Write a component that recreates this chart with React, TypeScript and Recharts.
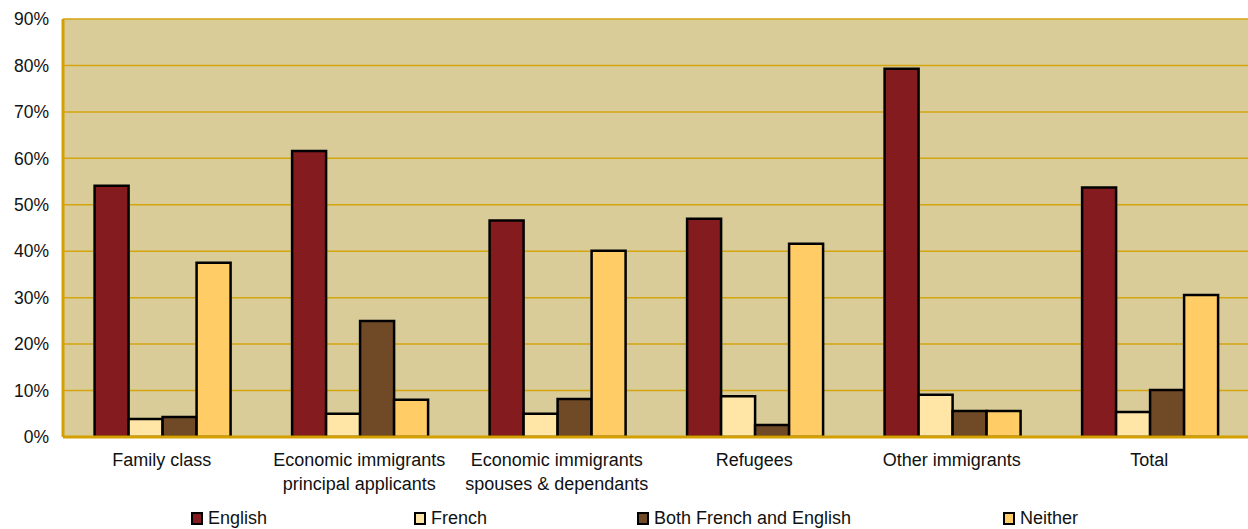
import { BarChart, Bar, XAxis, YAxis, CartesianGrid } from 'recharts';

const categories = [
  'Family class',
  'Economic immigrants\nprincipal applicants',
  'Economic immigrants\nspouses & dependants',
  'Refugees',
  'Other immigrants',
  'Total',
];

const english = [54.1, 61.6, 46.6, 47.0, 79.3, 53.7];
const french = [3.9, 5.0, 5.0, 8.8, 9.1, 5.4];
const both = [4.3, 25.0, 8.2, 2.6, 5.6, 10.1];
const neither = [37.5, 8.0, 40.1, 41.6, 5.6, 30.6];

const yTicks = [0, 10, 20, 30, 40, 50, 60, 70, 80, 90];

const SERIES = [
  { key: 'english', label: 'English', color: '#841B1E', legendX: 191 },
  { key: 'french', label: 'French', color: '#FFE6A6', legendX: 414 },
  { key: 'both', label: 'Both French and English', color: '#704A27', legendX: 637 },
  { key: 'neither', label: 'Neither', color: '#FFCC66', legendX: 1003 },
];

const data = categories.map((c, i) => ({
  name: c,
  english: english[i],
  french: french[i],
  both: both[i],
  neither: neither[i],
}));

const FONT = '"Liberation Sans", Arial, sans-serif';

function CategoryTick({ x, y, payload }: any) {
  const lines = String(payload.value).split('\n');
  return (
    <text x={x} y={y} textAnchor="middle" fill="#111" fontSize={18} fontFamily={FONT}>
      {lines.map((l, i) => (
        <tspan key={i} x={x} dy={i === 0 ? 21 : 24}>{l}</tspan>
      ))}
    </text>
  );
}

export default function App() {
  return (
    <div style={{ position: 'absolute', left: 0, top: 0, width: 1248, height: 529, background: '#fff', fontFamily: FONT }}>
      <BarChart
        width={1248}
        height={529}
        data={data}
        margin={{ top: 19, right: 0, left: 0, bottom: 0 }}
        barCategoryGap="16%"
        barGap={0}
      >
        <CartesianGrid fill="#D9CC98" stroke="#D4A50F" strokeWidth={1.5} vertical={false} />
        <XAxis
          dataKey="name"
          height={92}
          tick={<CategoryTick />}
          tickLine={false}
          axisLine={{ stroke: '#D4A000', strokeWidth: 3 }}
          interval={0}
        />
        <YAxis
          width={63}
          domain={[0, 90]}
          ticks={yTicks}
          tickFormatter={(v: number) => `${v}%`}
          tick={{ fill: '#111', fontSize: 17.5, fontFamily: FONT }}
          tickLine={false}
          tickSize={0}
          tickMargin={14}
          axisLine={{ stroke: '#D4A000', strokeWidth: 3 }}
          allowDataOverflow
        />
        {SERIES.map(s => (
          <Bar
            key={s.key}
            dataKey={s.key}
            name={s.label}
            fill={s.color}
            stroke="#000"
            strokeWidth={2.5}
            isAnimationActive={false}
          />
        ))}
      </BarChart>
      {SERIES.map(s => (
        <div
          key={s.key}
          style={{ position: 'absolute', left: s.legendX, top: 508, display: 'flex', alignItems: 'center', fontSize: 18, color: '#111', whiteSpace: 'nowrap' }}
        >
          <span style={{ display: 'inline-block', width: 8, height: 9, background: s.color, border: '2px solid #000', marginRight: 5 }} />
          <span>{s.label}</span>
        </div>
      ))}
    </div>
  );
}
